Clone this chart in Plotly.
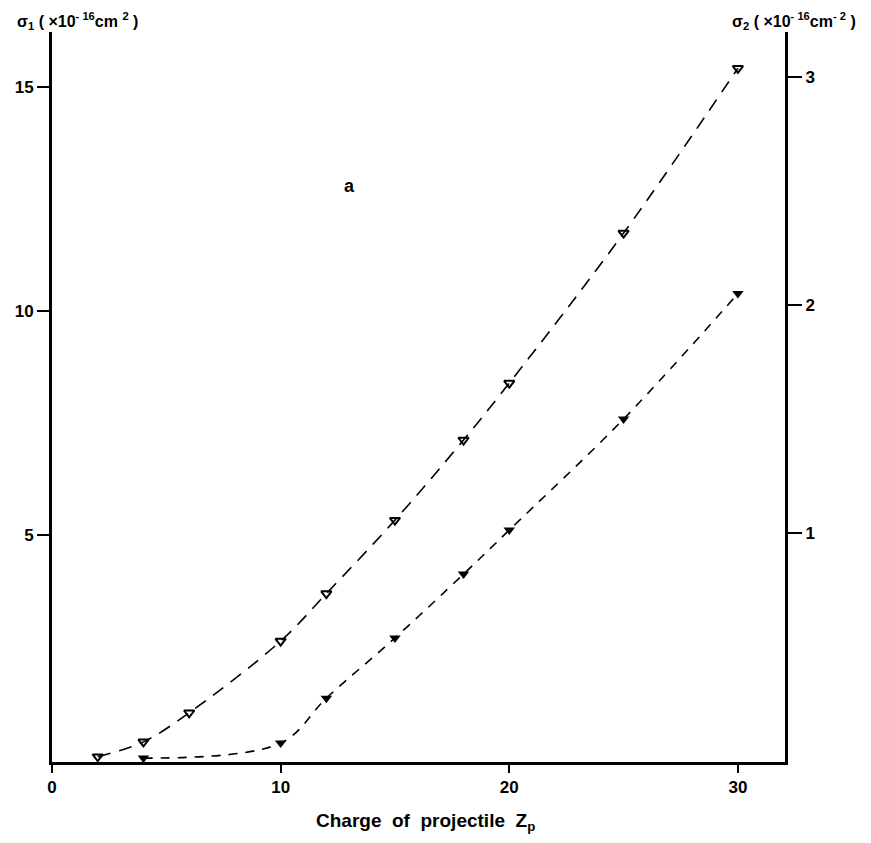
import plotly.graph_objects as go

# Charge of projectile Zp
z_open = [2, 4, 6, 10, 12, 15, 18, 20, 25, 30]
sigma1 = [0.05, 0.38, 1.03, 2.63, 3.69, 5.33, 7.12, 8.39, 11.74, 15.42]

z_filled = [4, 10, 12, 15, 18, 20, 25, 30]
sigma2 = [0.013, 0.079, 0.276, 0.54, 0.82, 1.013, 1.50, 2.05]

x_ticks = [0, 10, 20, 30]
y1_ticks = [5, 10, 15]
y2_ticks = [1, 2, 3]

FONT = "Liberation Sans, Arial, sans-serif"

fig = go.Figure()
fig.add_trace(go.Scatter(
    x=z_open, y=sigma1, mode="lines+markers", line_shape="spline",
    line=dict(color="black", width=1.6, dash="13px,9px"),
    marker=dict(symbol="triangle-down-open", size=9, color="black",
                line=dict(width=2, color="black")),
    yaxis="y", showlegend=False,
))
fig.add_trace(go.Scatter(
    x=z_filled, y=sigma2, mode="lines+markers", line_shape="spline",
    line=dict(color="black", width=1.6, dash="9px,8px"),
    marker=dict(symbol="triangle-down", size=10, color="black"),
    yaxis="y2", showlegend=False,
))

fig.update_layout(
    width=855, height=827,
    margin=dict(l=44, r=78, t=24, b=73),
    plot_bgcolor="white", paper_bgcolor="white",
    font=dict(family=FONT, color="black", size=16),
    xaxis=dict(
        range=[0, 32.06], tickvals=x_ticks, ticktext=[str(v) for v in x_ticks],
        ticks="outside", ticklen=8, tickwidth=2, tickcolor="black",
        showline=True, linewidth=3, linecolor="black", mirror=False,
        showgrid=False, zeroline=False, automargin=False,
        tickfont=dict(family=FONT, size=17, weight="bold"),
    ),
    yaxis=dict(
        range=[-0.07, 16.23], tickvals=y1_ticks, ticktext=[str(v) for v in y1_ticks],
        ticks="outside", ticklen=12, tickwidth=2, tickcolor="black",
        showline=True, linewidth=3, linecolor="black",
        showgrid=False, zeroline=False, automargin=False,
        tickfont=dict(family=FONT, size=17, weight="bold"),
    ),
    yaxis2=dict(
        range=[-0.004, 3.197], tickvals=y2_ticks, ticktext=[str(v) for v in y2_ticks],
        overlaying="y", side="right",
        ticks="outside", ticklen=14, tickwidth=2, tickcolor="black",
        showline=True, linewidth=3, linecolor="black",
        showgrid=False, zeroline=False, automargin=False,
        tickfont=dict(family=FONT, size=17, weight="bold"),
    ),
    annotations=[
        dict(text="σ<sub>1</sub> ( ×10<sup>- 16</sup>cm <sup>2</sup> )", xref="paper", yref="paper",
             x=0, y=1.0, xanchor="left", yanchor="middle", xshift=-37, yshift=11, showarrow=False,
             font=dict(family=FONT, size=16, weight="bold")),
        dict(text="σ<sub>2</sub> ( ×10<sup>- 16</sup>cm<sup>- 2</sup> )", xref="paper", yref="paper",
             x=1.0, y=1.0, xanchor="left", yanchor="middle", xshift=-55, yshift=11, showarrow=False,
             font=dict(family=FONT, size=16, weight="bold")),
        dict(text="a", xref="x", yref="y", x=13.0, y=12.8, showarrow=False,
             font=dict(family=FONT, size=18, weight="bold")),
        dict(text="Charge  of  projectile  Z<sub>p</sub>", xref="paper", yref="paper",
             x=0.51, y=0, xanchor="center", yanchor="top", yshift=-46, showarrow=False,
             font=dict(family=FONT, size=19, weight="bold")),
    ],
)

fig.write_html("out.html")
